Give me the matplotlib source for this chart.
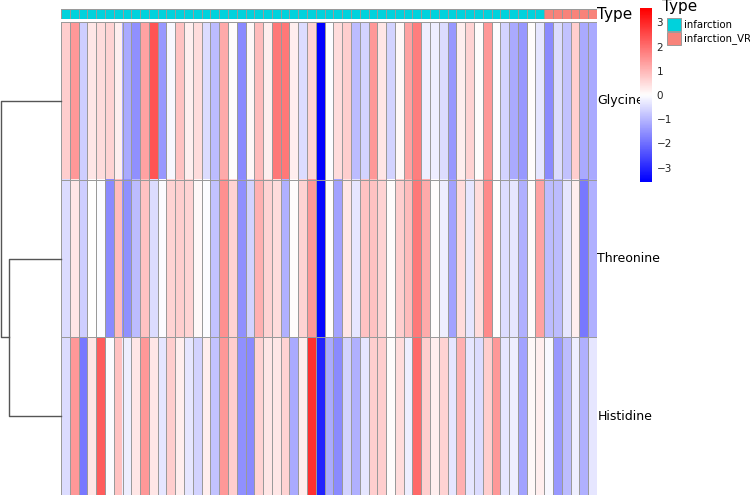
import numpy as np
import matplotlib
matplotlib.use("Agg")
import matplotlib.pyplot as plt
from matplotlib.colors import LinearSegmentedColormap, ListedColormap
from matplotlib.patches import Rectangle

# row-scaled values (61 samples)
genes = ["Glycine", "Threonine", "Histidine"]
glycine = [0.7, 1.45, -0.7, 0.35, 0.5, 0.6, 0.25, -1.2, -1.55, 1.3,
           2.4, -1.45, -0.1, 0.85, 0.25, 0.5, -0.5, -0.95, 1.2, 0.05,
           -1.65, 0.1, 0.95, 0.25, 1.9, 1.9, 0.25, -0.5, 0.6, -3.6,
           -0.05, 0.5, 0.7, -0.95, -0.6, 1.45, 0.35, -0.6, 0.1, 1.3,
           1.8, -0.25, -0.25, -0.5, -1.45, 0.25, 0.6, 0.05, 1.45, -0.05,
           -0.6, -1.2, -1.45, 0.05, -0.35, -1.65, -0.5, -0.85, 0.7, -1.2,
           -1.2]
threonine = [-0.5, 0.35, -0.7, 0.0, -0.05, -1.65, 0.95, -1.55, -0.95, 0.85,
             -0.5, -0.05, 0.6, 0.7, 0.6, 0.1, -0.05, -0.85, 1.55, 0.6,
             -1.55, -0.6, 1.1, 0.6, 0.5, -1.1, 0.05, 0.6, 1.45, -3.5,
             0.05, -1.3, 0.35, -0.35, 0.85, 0.85, 0.6, 0.05, 0.7, 0.95,
             1.9, 1.2, 0.05, -0.25, -1.3, 0.5, -0.35, 0.5, 1.65, 0.0,
             -0.5, -0.35, -1.1, 0.05, 1.3, -0.95, -0.95, -0.35, 0.25, -1.9,
             -1.1]
histidine = [-0.5, 1.45, -1.9, 0.35, 2.3, -0.05, 0.85, -0.25, 0.35, 1.45,
             0.35, -0.35, 0.7, 0.25, -0.35, -0.6, 0.25, -0.85, 1.45, 0.7,
             -1.55, -1.65, 0.6, 0.35, 0.35, 0.6, -1.2, 0.25, 2.9, -3.1,
             -1.2, -1.65, -0.6, -1.1, -0.35, 0.7, 0.7, 0.05, 0.5, -0.25,
             2.1, 0.7, 0.25, 0.6, -0.35, 1.1, -0.35, -0.5, 0.7, 1.45,
             -0.35, -0.25, -1.3, 0.1, 0.25, -0.1, -1.45, -0.95, -0.25, -1.1,
             -0.35]
sample_type = ["infarction"] * 55 + ["infarction_VR"] * 6
type_levels = ["infarction", "infarction_VR"]
type_colors = ["#00D2DC", "#F8837A"]
# row dendrogram: Threonine+Histidine merge first, then Glycine
merge_heights = [0.86, 1.0]

W, H = 750, 498


def rect(x0, y0, x1, y1):
    return [x0 / W, 1 - y1 / H, (x1 - x0) / W, (y1 - y0) / H]


def cell_borders(a, nx, ny, col):
    a.vlines(np.arange(nx + 1), 0, ny, colors=col, lw=0.5, antialiased=False)
    a.hlines(np.arange(ny + 1), 0, nx, colors=col, lw=0.5, antialiased=False)


fig = plt.figure(figsize=(7.5, 4.98), dpi=100)
cmap = LinearSegmentedColormap.from_list("bwr_ph", ["#0000FF", "#FFFFFF", "#FF0000"])
lim = 3.6
grid_col = "#9A9A9A"

mat = np.array([glycine, threonine, histidine])
ncol = mat.shape[1]

# main heatmap
ax = fig.add_axes(rect(61, 22, 597, 495))
ax.imshow(mat, cmap=cmap, vmin=-lim, vmax=lim, aspect="auto",
          extent=[0, ncol, 3, 0], interpolation="nearest")
cell_borders(ax, ncol, 3, grid_col)
ax.set_xlim(0, ncol)
ax.set_ylim(3, 0)
ax.axis("off")
for i, g in enumerate(genes):
    ax.text(ncol + 0.05, i + 0.5, g, va="center", ha="left", fontsize=9)

# annotation bar
ax_a = fig.add_axes(rect(61, 9, 597, 19))
codes = np.array([[type_levels.index(t) for t in sample_type]])
ax_a.imshow(codes, cmap=ListedColormap(type_colors), vmin=-0.5, vmax=1.5,
            aspect="auto", extent=[0, ncol, 1, 0], interpolation="nearest")
cell_borders(ax_a, ncol, 1, grid_col)
ax_a.set_xlim(0, ncol)
ax_a.set_ylim(1, 0)
ax_a.axis("off")
ax_a.text(ncol + 0.05, 0.5, "Type", va="center", ha="left", fontsize=11)

# row dendrogram
ax_d = fig.add_axes(rect(1, 22, 61, 495))
lc = "#555555"
h1, h2 = merge_heights
ax_d.plot([0, h1, h1, 0], [1.5, 1.5, 2.5, 2.5], color=lc, lw=1)
ax_d.plot([0, h2, h2, h1], [0.5, 0.5, 2.0, 2.0], color=lc, lw=1)
ax_d.set_xlim(h2, 0)
ax_d.set_ylim(3, 0)
ax_d.axis("off")
for ln in ax_d.lines:
    ln.set_clip_on(False)

# colour key
ax_c = fig.add_axes(rect(640, 8, 651, 182))
grad = np.linspace(-lim, lim, 100).reshape(-1, 1)
ax_c.imshow(grad, cmap=cmap, vmin=-lim, vmax=lim, aspect="auto", origin="lower",
            extent=[0, 1, -lim, lim])
ax_c.set_xticks([])
ax_c.yaxis.tick_right()
ax_c.set_yticks([-3, -2, -1, 0, 1, 2, 3])
ax_c.set_yticklabels(["\u22123", "\u22122", "\u22121", "0", "1", "2", "3"])
ax_c.tick_params(axis="y", length=0, labelsize=7.5, pad=4, labelcolor="#222222")
for s in ax_c.spines.values():
    s.set_visible(False)

# annotation legend
ax_l = fig.add_axes(rect(660, 0, 750, 50))
ax_l.set_xlim(660, 750)
ax_l.set_ylim(50, 0)
ax_l.axis("off")
ax_l.text(662, 7, "Type", fontsize=11, va="center", ha="left")
for k, (lev, col) in enumerate(zip(type_levels, type_colors)):
    y0 = 18 + k * 14
    ax_l.add_patch(Rectangle((667, y0), 14, 13, facecolor=col, edgecolor=grid_col, lw=0.7))
    ax_l.text(684, y0 + 6.5, lev, fontsize=7.3, va="center", ha="left")

fig.savefig("out.png", dpi=100)
